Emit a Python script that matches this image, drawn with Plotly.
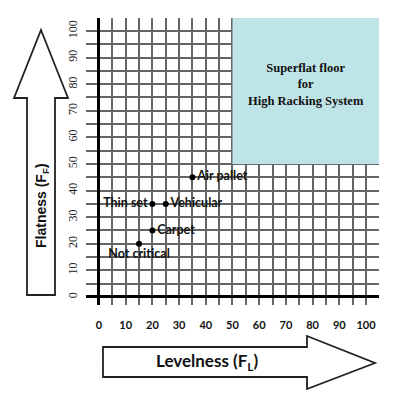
import plotly.graph_objects as go

# ---- data ----
point_labels = ["Not critical", "Thin set", "Vehicular", "Carpet", "Air pallet"]
levelness = [15, 20, 25, 20, 35]
flatness = [20, 35, 35, 25, 45]
label_positions = ["bottom center", "middle left", "middle right", "middle right", "middle right"]
region_x = [50, 105]
region_y = [50, 105]
region_text = "Superflat floor<br>for<br>High Racking System"
x_ticks = [0, 10, 20, 30, 40, 50, 60, 70, 80, 90, 100]
y_ticks = [0, 10, 20, 30, 40, 50, 60, 70, 80, 90, 100]

W = H = 400


def P(x, y):
    return x / W, 1 - y / H


def path(pts):
    s = ""
    for i, (x, y) in enumerate(pts):
        px, py = P(x, y)
        s += ("M" if i == 0 else "L") + f"{px:.4f},{py:.4f} "
    return s + "Z"


fig = go.Figure()

fig.add_trace(go.Scatter(
    x=levelness, y=flatness, mode="markers+text",
    text=point_labels, textposition=label_positions,
    marker=dict(color="black", size=6),
    textfont=dict(family="Lato", size=12.5, color="#111", weight="bold"),
    cliponaxis=False, showlegend=False, hoverinfo="skip"))

# region box
fig.add_shape(type="rect", xref="x", yref="y",
              x0=region_x[0], x1=region_x[1], y0=region_y[0], y1=region_y[1],
              fillcolor="#bfe4e7", line=dict(width=0), layer="above")
fig.add_annotation(x=(region_x[0] + region_x[1]) / 2, y=80,
                   xref="x", yref="y", text=region_text, showarrow=False,
                   xanchor="center", yanchor="middle",
                   font=dict(family="Liberation Serif", size=12.5, color="#111", weight="bold"))

# arrows (decorations)
up = [(41, 30), (68, 98), (55, 98), (55, 295), (27, 295), (27, 98), (14, 98)]
right = [(103, 347), (307, 347), (307, 336), (375, 363), (307, 389), (307, 377), (103, 377)]
for pts in (up, right):
    fig.add_shape(type="path", xref="paper", yref="paper", path=path(pts),
                  fillcolor="white", line=dict(color="#222", width=1.8), layer="above")

fx, fy = P(42, 206)
fig.add_annotation(x=fx, y=fy, xref="paper", yref="paper", textangle=-90,
                   xanchor="center", yanchor="middle",
                   text="Flatness (F<sub>F</sub>)", showarrow=False,
                   font=dict(family="Liberation Sans", size=14, color="#111", weight="bold"))
lx, ly = P(207, 362)
fig.add_annotation(x=lx, y=ly, xref="paper", yref="paper",
                   xanchor="center", yanchor="middle",
                   text="Levelness (F<sub>L</sub>)", showarrow=False,
                   font=dict(family="Lato", size=17, color="#111", weight="bold"))

xr = [-4.99, 104.9]
yr = [-3, 104.9]
kx = 2.67
ky = 2.66
xd = [(99 + kx * xr[0]) / W, (99 + kx * xr[1]) / W]
yd = [1 - (297 - ky * yr[0]) / H, 1 - (297 - ky * yr[1]) / H]

grid = "#666666"
fig.update_xaxes(range=xr, domain=xd, tickvals=x_ticks, ticks="", showgrid=True,
                 gridcolor=grid, gridwidth=1.5,
                 minor=dict(dtick=5, tick0=0, showgrid=True, gridcolor=grid, gridwidth=1.5),
                 zeroline=True, zerolinecolor="black", zerolinewidth=3,
                 tickfont=dict(family="Lato", size=11, color="#111", weight="bold"),
                 ticklabelstandoff=12, showline=False, fixedrange=True)
fig.update_yaxes(range=yr, domain=yd, tickvals=y_ticks, ticks="", showgrid=True,
                 gridcolor=grid, gridwidth=1.5,
                 minor=dict(dtick=5, tick0=0, showgrid=True, gridcolor=grid, gridwidth=1.5),
                 zeroline=True, zerolinecolor="black", zerolinewidth=3,
                 tickangle=-90,
                 tickfont=dict(family="Liberation Serif", size=12, color="#222"),
                 ticklabelstandoff=5, showline=False, fixedrange=True)

fig.update_layout(width=W, height=H, margin=dict(l=0, r=0, t=0, b=0),
                  plot_bgcolor="white", paper_bgcolor="white", showlegend=False)

fig.write_html("out.html", config={"displayModeBar": False},
               post_script="document.body.style.margin='0';document.body.style.overflow='hidden';")
